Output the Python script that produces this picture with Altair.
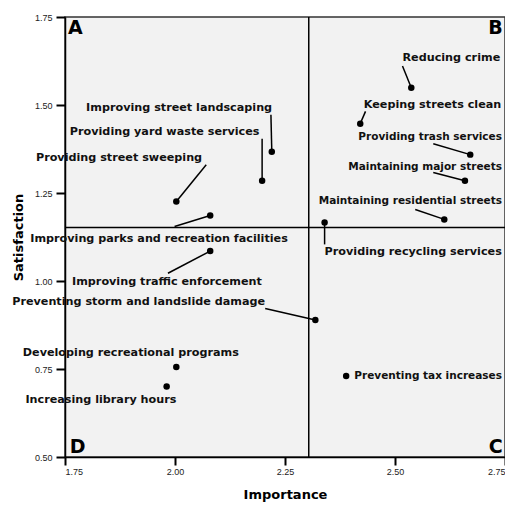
import altair as alt
import pandas as pd

# ---- data ----
services = [
    "Reducing crime",
    "Keeping streets clean",
    "Providing trash services",
    "Maintaining major streets",
    "Maintaining residential streets",
    "Providing recycling services",
    "Improving street landscaping",
    "Providing yard waste services",
    "Providing street sweeping",
    "Improving parks and recreation facilities",
    "Improving traffic enforcement",
    "Preventing storm and landslide damage",
    "Developing recreational programs",
    "Increasing library hours",
    "Preventing tax increases",
]
importance = [2.537, 2.421, 2.671, 2.659, 2.612, 2.340, 2.220, 2.198,
              2.003, 2.080, 2.080, 2.319, 2.003, 1.981, 2.389]
satisfaction = [1.549, 1.447, 1.359, 1.285, 1.175, 1.166, 1.367, 1.285,
                1.226, 1.186, 1.085, 0.889, 0.756, 0.700, 0.730]

# label anchor in data units (left edge for west labels, right edge for east labels)
label_side = ["west", "west", "east", "east", "east", "west", "west", "west",
              "west", "west", "west", "west", "west", "west", "east"]
label_importance = [2.517, 2.429, 2.743, 2.743, 2.743, 2.340, 1.798, 1.761,
                    1.684, 1.671, 1.766, 1.630, 1.654, 1.660, 2.743]
label_satisfaction = [1.634, 1.501, 1.410, 1.325, 1.226, 1.081, 1.492, 1.424,
                      1.350, 1.118, 0.996, 0.939, 0.795, 0.662, 0.730]

# leader line start (None = no leader line)
leader_importance = [2.517, 2.433, 2.587, 2.587, 2.546, 2.340, 2.218, 2.198,
                     2.071, 1.999, 1.984, 2.205, None, None, None]
leader_satisfaction = [1.611, 1.482, 1.390, 1.308, 1.203, 1.104, 1.472, 1.404,
                       1.330, 1.155, 1.022, 0.922, None, None, None]

mean_importance = [2.304]
mean_satisfaction = [1.152]

quadrants_left = ["A", "D"]
quadrants_left_x = [1.757, 1.761]
quadrants_left_y = [1.719, 0.528]
quadrants_right = ["B", "C"]
quadrants_right_x = [2.745, 2.745]
quadrants_right_y = [1.719, 0.528]

x_ticks = [1.75, 2.00, 2.25, 2.50, 2.75]
y_ticks = [0.50, 0.75, 1.00, 1.25, 1.50, 1.75]

# ---- tables ----
pts = pd.DataFrame({
    "service": services,
    "importance": importance,
    "satisfaction": satisfaction,
    "lx": label_importance,
    "ly": label_satisfaction,
    "side": label_side,
})
lead = pd.DataFrame({
    "importance": importance,
    "satisfaction": satisfaction,
    "x0": leader_importance,
    "y0": leader_satisfaction,
}).dropna()
vline = pd.DataFrame({"m": mean_importance})
hline = pd.DataFrame({"m": mean_satisfaction})
qleft = pd.DataFrame({"q": quadrants_left, "x": quadrants_left_x, "y": quadrants_left_y})
qright = pd.DataFrame({"q": quadrants_right, "x": quadrants_right_x, "y": quadrants_right_y})

xscale = alt.Scale(domain=[1.75, 2.75], nice=False, zero=False)
yscale = alt.Scale(domain=[0.5, 1.75], nice=False, zero=False)

xaxis = alt.Axis(values=x_ticks, format=".2f", title="Importance", grid=False,
                 labelFontSize=9, labelColor="#222", tickSize=8, tickWidth=2,
                 tickColor="black", domainColor="black", domainWidth=1.5,
                 labelPadding=2, titleFontSize=13, titleFontWeight="bold",
                 titlePadding=12, titleFont="DejaVu Sans", labelFont="Liberation Sans")
yaxis = alt.Axis(values=y_ticks, format=".2f", title="Satisfaction", grid=False,
                 labelFontSize=9, labelColor="#222", tickSize=9, tickWidth=2,
                 tickColor="black", domainColor="black", domainWidth=1.5,
                 labelPadding=4, titleFontSize=13, titleFontWeight="bold",
                 titlePadding=9, titleFont="DejaVu Sans", labelFont="Liberation Sans")

X = alt.X("importance:Q", scale=xscale, axis=xaxis)
Y = alt.Y("satisfaction:Q", scale=yscale, axis=yaxis)

points = alt.Chart(pts).mark_circle(size=42, color="black", opacity=1).encode(x=X, y=Y)

leaders = alt.Chart(lead).mark_rule(color="black", strokeWidth=1.5).encode(
    x=alt.X("x0:Q", scale=xscale), y=alt.Y("y0:Q", scale=yscale),
    x2="importance:Q", y2="satisfaction:Q")

label_style = dict(baseline="middle", font="DejaVu Sans", fontWeight="bold", color="#111")
labels_left = alt.Chart(pts).transform_filter("datum.side == 'west'").mark_text(
    align="left", fontSize=11.2, **label_style).encode(
    x=alt.X("lx:Q", scale=xscale), y=alt.Y("ly:Q", scale=yscale), text="service:N")
labels_right = alt.Chart(pts).transform_filter("datum.side == 'east'").mark_text(
    align="right", fontSize=10.5, **label_style).encode(
    x=alt.X("lx:Q", scale=xscale), y=alt.Y("ly:Q", scale=yscale), text="service:N")

vrule = alt.Chart(vline).mark_rule(color="black", strokeWidth=1.5).encode(
    x=alt.X("m:Q", scale=xscale))
hrule = alt.Chart(hline).mark_rule(color="black", strokeWidth=1.5).encode(
    y=alt.Y("m:Q", scale=yscale))

qL = alt.Chart(qleft).mark_text(align="left", baseline="middle", font="DejaVu Sans",
                                fontWeight=900, fontSize=19, color="black").encode(
    x=alt.X("x:Q", scale=xscale), y=alt.Y("y:Q", scale=yscale), text="q:N")
qR = alt.Chart(qright).mark_text(align="right", baseline="middle", font="DejaVu Sans",
                                 fontWeight=900, fontSize=19, color="black").encode(
    x=alt.X("x:Q", scale=xscale), y=alt.Y("y:Q", scale=yscale), text="q:N")

chart = alt.layer(vrule, hrule, leaders, points, labels_left, labels_right, qL, qR).properties(
    width=440, height=440,
    autosize=alt.AutoSizeParams(type="none"),
    padding={"left": 57, "top": 9, "right": 0, "bottom": 46},
    background="white",
).configure_view(fill="#f2f2f2", stroke="#333", strokeWidth=1.5)

chart.save("out.html", embed_options={"renderer": "svg", "actions": False})
